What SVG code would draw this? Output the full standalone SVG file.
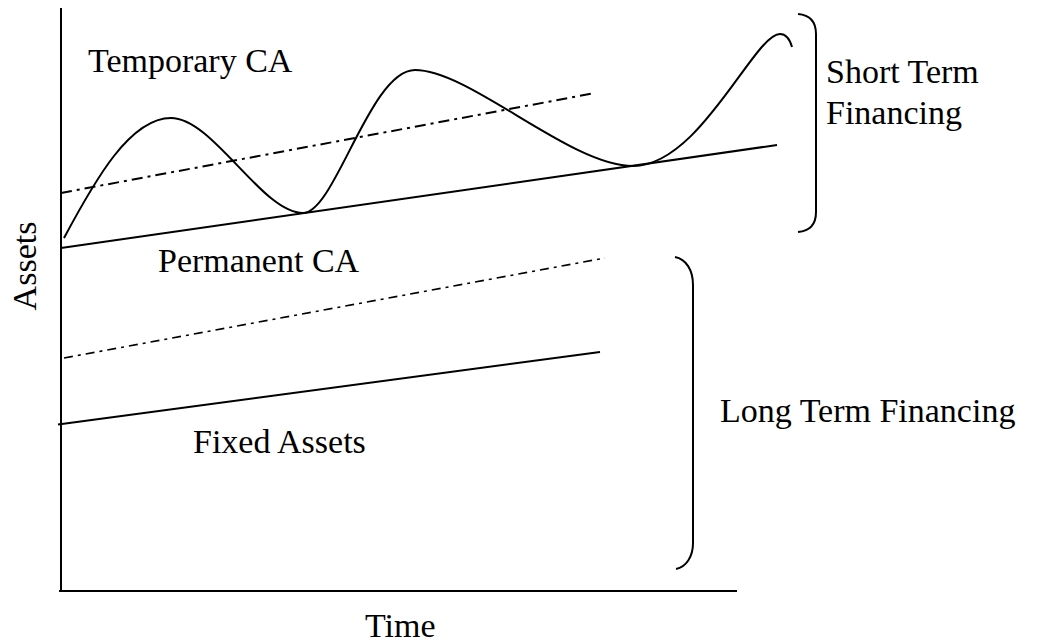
<svg xmlns="http://www.w3.org/2000/svg" width="1037" height="641" viewBox="0 0 1037 641">
  <style>
    .lbl { font-family: "Liberation Serif", "Times New Roman", serif; font-size: 34px; fill: #000; }
    .ln { fill: none; stroke: #000; stroke-width: 2; stroke-linecap: butt; }
    .dd { fill: none; stroke: #000; stroke-width: 2; stroke-dasharray: 11 5 3 5; }
    .dd2 { fill: none; stroke: #000; stroke-width: 1.6; stroke-dasharray: 9 5 3 5; }
  </style>
  <rect width="1037" height="641" fill="#fff"/>

  <!-- axes -->
  <g id="axes">
    <line class="ln" x1="61" y1="8" x2="61" y2="591"/>
    <line class="ln" x1="59" y1="591" x2="737" y2="591"/>
    <text class="lbl" x="365" y="637">Time</text>
    <text class="lbl" transform="translate(36,266) rotate(-90)" text-anchor="middle">Assets</text>
  </g>

  <!-- asset levels -->
  <g id="connectors">
    <!-- total assets (fluctuating) -->
    <path id="total-assets" class="ln" d="M64,238 C95,180 130,118 171,118 C213,118 262,213 303,213 C335,213 370,70 415,70 C470,70 570,166 633,166 C700,166 754,34 780,34 C786,34 790,40 792,47"/>
    <!-- permanent current assets + fixed assets -->
    <line class="ln" x1="61" y1="248" x2="777" y2="145"/>
    <line class="dd" x1="61" y1="193" x2="595" y2="93"/>
    <!-- fixed assets -->
    <line class="dd2" x1="64" y1="358" x2="605" y2="258"/>
    <line class="ln" x1="58" y1="424.5" x2="600" y2="352"/>
  </g>

  <g id="temporary-ca">
    <text class="lbl" x="88" y="72">Temporary CA</text>
  </g>
  <g id="permanent-ca">
    <text class="lbl" x="158" y="272">Permanent CA</text>
  </g>
  <g id="fixed-assets">
    <text class="lbl" x="193" y="453">Fixed Assets</text>
  </g>

  <!-- financing braces -->
  <g id="short-term">
    <path class="ln" d="M798,14 C810,15 816,22 816,34 L816,212 C816,224 810,231 798,232"/>
    <text class="lbl" x="826" y="83">Short Term</text>
    <text class="lbl" x="826" y="124">Financing</text>
  </g>
  <g id="long-term">
    <path class="ln" d="M675,257 C686,259 693,270 693,285 L693,543 C693,557 686,567 676,569"/>
    <text class="lbl" x="720" y="422">Long Term Financing</text>
  </g>
</svg>
